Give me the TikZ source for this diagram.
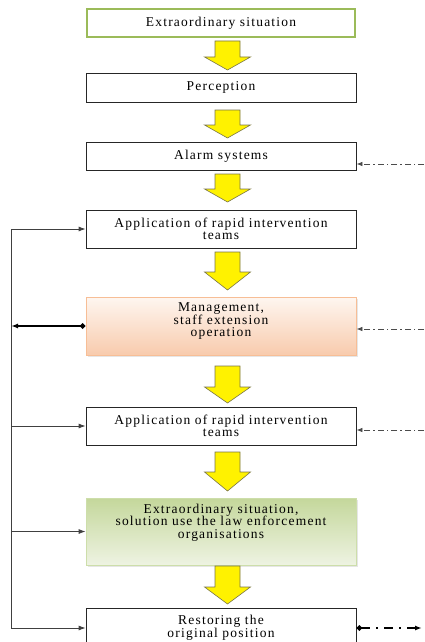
\documentclass[tikz,border=0pt]{standalone}
\usepackage{fontspec}
\setmainfont{Liberation Serif}[LetterSpace=9]
\usetikzlibrary{arrows.meta,positioning,shadows}

\begin{document}
\begin{tikzpicture}[x=1pt,y=-1pt,
  box/.style={draw=black!85, line width=0.8pt, fill=white, minimum width=270pt,
    text width=262pt, align=center, inner sep=2pt,
    font=\fontsize{13.5}{12.5}\selectfont},
  yarrow/.style={draw=black!60!yellow, line width=0.6pt, fill=yellow},
  rail/.style={draw=black!75, line width=0.8pt},
  feed/.style={draw=black!70, line width=0.8pt,
    dash pattern=on 6pt off 3pt on 1.5pt off 3pt, -{Latex[length=6pt,width=4.5pt]}}
]
\useasboundingbox (0,0) rectangle (424,642);
\clip (0,0) rectangle (424,642);

\node [box, draw={rgb,255:red,155;green,187;blue,89}, line width=2.5pt,
  minimum height=28pt, minimum width=268pt] (sit) at (221,23) {Extraordinary situation};
\node [box, minimum height=29pt] (perc) at (221,87.5) {Perception};
\node [box, minimum height=28pt] (alarm) at (221,156) {Alarm systems};
\node [box, minimum height=38pt] (team1) at (221,229) {Application of rapid intervention\\ teams};
\node [box, minimum height=58pt, draw={rgb,255:red,247;green,190;blue,150},
  top color={rgb,255:red,254;green,246;blue,240}, bottom color={rgb,255:red,248;green,203;blue,173},
  drop shadow={opacity=0.2, shadow xshift=1.5pt, shadow yshift=-1.5pt}]
  (manag) at (221,326) {Management,\\ staff extension\\ operation\\ \mbox{}};
\node [box, minimum height=38pt] (team2) at (221,426) {Application of rapid intervention\\ teams};
\node [box, minimum height=67pt, draw={rgb,255:red,205;green,222;blue,170},
  top color={rgb,255:red,196;green,215;blue,155}, bottom color={rgb,255:red,238;green,243;blue,226},
  drop shadow={opacity=0.2, shadow xshift=1.5pt, shadow yshift=-1.5pt}]
  (law) at (221,531.5) {Extraordinary situation,\\ solution use the law enforcement\\ organisations\\[8pt] \mbox{}};
\node [box, minimum height=40pt] (rest) at (221,628) {Restoring the\\ original position};

% yellow block arrows
\foreach \t/\n/\p in {41/57/70, 110/125/138, 174/189/202, 252/272/290,
                      366/387/403, 452/472/491, 566/587/604}
  \draw [yarrow] (215,\t) -- (240,\t) -- (240,\n) -- (250.5,\n) -- (227.5,\p)
    -- (204.5,\n) -- (215,\n) -- cycle;

% left side
\coordinate (top) at (11,229);
\coordinate (bot) at (11,628);
\draw [rail] (top) -- (bot);
\draw [rail, -{Latex[length=7pt,width=5pt]}] (top) -- (team1.west);
\draw [rail, line width=1.8pt, black, {Latex[length=7pt,width=5pt]}-{Diamond[length=6pt,width=6pt]}]
  (top |- manag.west) -- (manag.west);
\draw [rail, -{Latex[length=7pt,width=5pt]}] (top |- team2.west) -- (team2.west);
\draw [rail, -{Latex[length=7pt,width=5pt]}] (top |- law.west) -- (law.west);
\draw [rail, -{Latex[length=7pt,width=5pt]}] (bot) -- (rest.west);

% right side
\coordinate (f3) at (424,164);
\coordinate (f5) at (424,329);
\coordinate (f6) at (424,430);
\coordinate (f8) at (422,628);
\draw [feed] (f3) -- (f3 -| alarm.east);
\draw [feed] (f5) -- (f5 -| manag.east);
\draw [feed] (f6) -- (f6 -| team2.east);
\draw [black, line width=1.8pt, dash pattern=on 9pt off 6pt on 2pt off 6pt,
  {Diamond[length=6pt,width=6pt]}-{Latex[length=7pt,width=5pt]}] (rest.east) -- (f8);
\end{tikzpicture}
\end{document}
